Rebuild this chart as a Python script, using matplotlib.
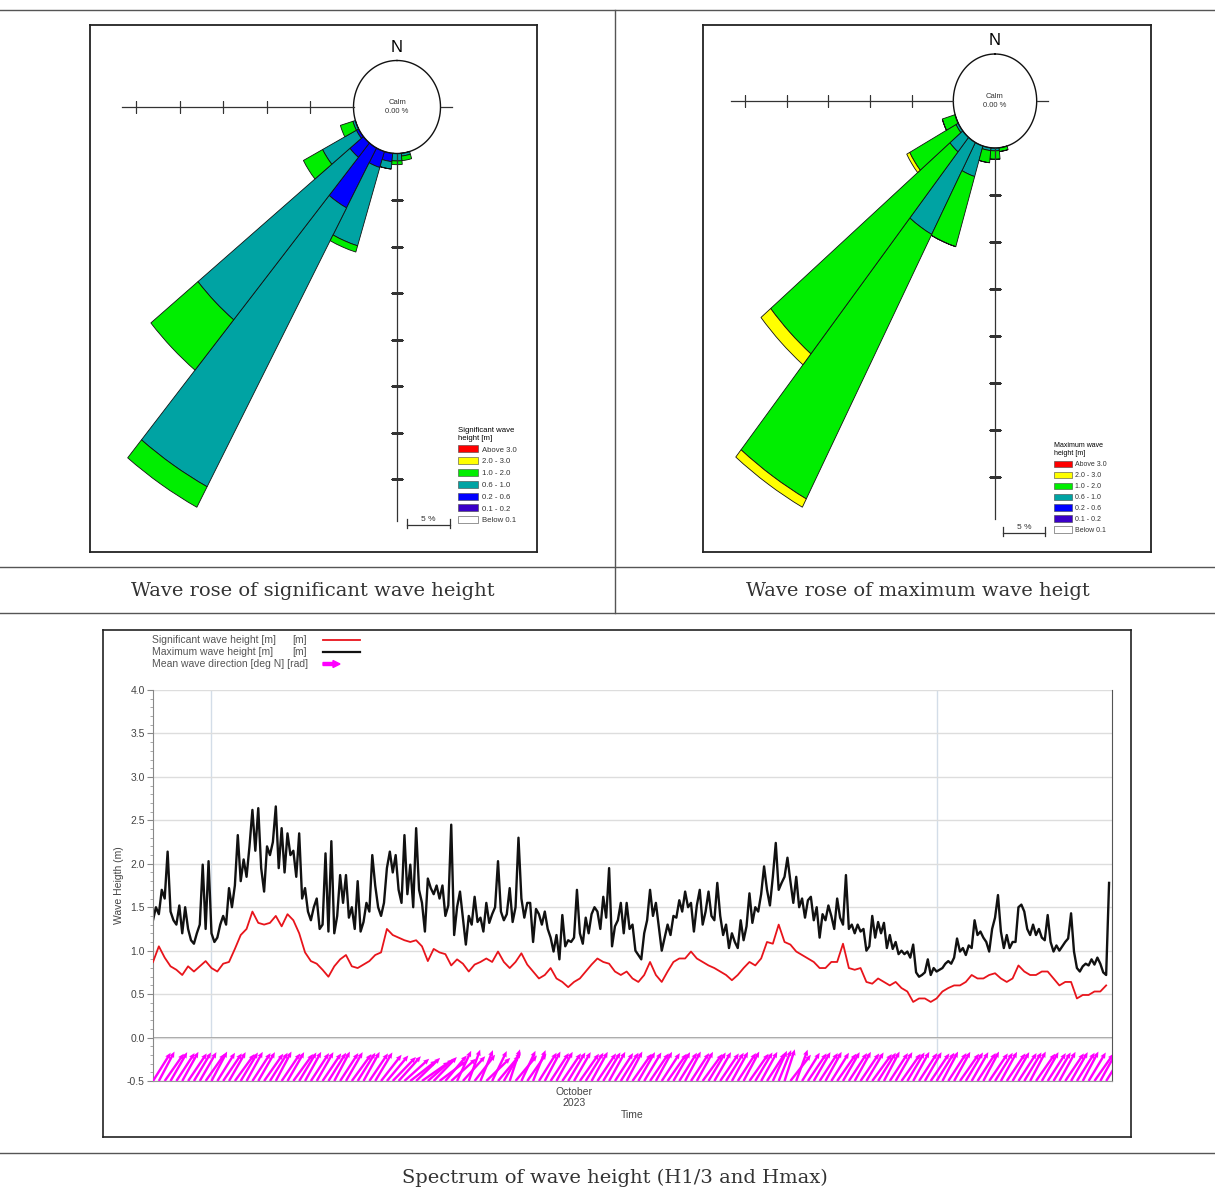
import numpy as np
import matplotlib
matplotlib.use("Agg")
import matplotlib.pyplot as plt
import matplotlib.dates as mdates
import matplotlib.patches as mpatches
from matplotlib.lines import Line2D

plt.rcParams['font.family'] = ['Liberation Sans', 'DejaVu Sans']

# ---- wave rose data (% of time per direction sector, 11.25 deg sectors) ----
rose_dirs = [168.75, 180.0, 191.25, 202.5, 213.75, 225.0, 236.25, 247.5]
bin_labels = ['Above 3.0', '2.0 - 3.0', '1.0 - 2.0', '0.6 - 1.0', '0.2 - 0.6', '0.1 - 0.2', 'Below 0.1']
bin_colors = ['#ff0000', '#ffff00', '#00ee00', '#00a3a3', '#0000ff', '#3a00c8', '#ffffff']

# significant wave height, bins from inside out
hs_02_06 = [0.0, 0.0, 0.9, 1.8, 7.3, 2.0, 0.3, 0.0]
hs_06_10 = [0.3, 0.8, 0.8, 8.8, 34.0, 22.6, 4.4, 0.3]
hs_10_20 = [0.5, 0.4, 0.0, 0.7, 2.5, 7.0, 2.5, 1.5]

# maximum wave height
hm_06_10 = [0.0, 0.3, 0.3, 3.4, 11.1, 2.0, 0.3, 0.0]
hm_10_20 = [0.4, 0.9, 1.3, 7.8, 31.9, 27.8, 6.3, 1.6]
hm_20_30 = [0.0, 0.0, 0.0, 0.0, 1.0, 1.5, 0.4, 0.0]

calm_r = 5.0

# ---- time series (start 2023-09-28 12:00) ----
hs_6h = [
    0.87, 1.05, 0.92, 0.82,  0.78, 0.72, 0.82, 0.76,  0.82, 0.88, 0.80, 0.76,
    0.85, 0.87, 1.02, 1.18,  1.25, 1.45, 1.32, 1.30,  1.32, 1.40, 1.28, 1.42,
    1.35, 1.20, 0.98, 0.88,  0.85, 0.78, 0.70, 0.82,  0.90, 0.95, 0.82, 0.80,
    0.84, 0.88, 0.95, 0.98,  1.25, 1.18, 1.15, 1.12,  1.10, 1.12, 1.05, 0.88,
    1.02, 0.98, 0.96, 0.83,  0.90, 0.85, 0.76, 0.84,  0.87, 0.91, 0.87, 0.99,
    0.87, 0.80, 0.87, 0.97,  0.84, 0.76, 0.68, 0.72,  0.80, 0.68, 0.64, 0.58,
    0.64, 0.68, 0.76, 0.84,  0.91, 0.87, 0.85, 0.76,  0.72, 0.76, 0.68, 0.64,
    0.72, 0.87, 0.72, 0.64,  0.76, 0.87, 0.91, 0.91,  0.99, 0.91, 0.87, 0.83,
    0.80, 0.76, 0.72, 0.66,  0.72, 0.80, 0.87, 0.83,  0.91, 1.10, 1.08, 1.30,
    1.10, 1.07, 0.99, 0.95,  0.91, 0.87, 0.80, 0.80,  0.87, 0.87, 1.08, 0.80,
    0.78, 0.80, 0.64, 0.62,  0.68, 0.64, 0.60, 0.64,  0.57, 0.53, 0.41, 0.45,
    0.45, 0.41, 0.45, 0.53,  0.57, 0.60, 0.60, 0.64,  0.72, 0.68, 0.68, 0.72,
    0.74, 0.68, 0.64, 0.68,  0.83, 0.76, 0.72, 0.72,  0.76, 0.76, 0.68, 0.60,
    0.64, 0.64, 0.45, 0.49,  0.49, 0.53, 0.53, 0.60,
]

hmax_3h = [
    1.35, 1.50, 1.42, 1.70, 1.60, 2.14, 1.45, 1.35,
    1.30, 1.52, 1.20, 1.50, 1.25, 1.12, 1.08, 1.20,
    1.30, 1.99, 1.25, 2.03, 1.20, 1.10, 1.15, 1.30,
    1.40, 1.30, 1.72, 1.50, 1.75, 2.33, 1.80, 2.05,
    1.85, 2.20, 2.62, 2.15, 2.64, 1.95, 1.68, 2.20,
    2.10, 2.25, 2.66, 1.95, 2.41, 1.90, 2.35, 2.10,
    2.15, 1.85, 2.35, 1.60, 1.72, 1.45, 1.35, 1.50,
    1.60, 1.25, 1.30, 2.12, 1.22, 2.26, 1.20, 1.40,
    1.87, 1.55, 1.87, 1.38, 1.50, 1.25, 1.80, 1.22,
    1.33, 1.55, 1.45, 2.10, 1.75, 1.50, 1.40, 1.55,
    1.95, 2.14, 1.90, 2.10, 1.70, 1.55, 2.33, 1.65,
    1.99, 1.50, 2.41, 1.70, 1.55, 1.22, 1.83, 1.72,
    1.65, 1.75, 1.60, 1.75, 1.40, 1.52, 2.45, 1.18,
    1.50, 1.68, 1.38, 1.07, 1.40, 1.30, 1.62, 1.33,
    1.38, 1.22, 1.55, 1.32, 1.42, 1.50, 2.03, 1.45,
    1.35, 1.42, 1.72, 1.33, 1.50, 2.30, 1.60, 1.38,
    1.55, 1.55, 1.10, 1.48, 1.42, 1.30, 1.45, 1.25,
    1.15, 0.99, 1.18, 0.90, 1.41, 1.05, 1.12, 1.10,
    1.15, 1.70, 1.20, 1.08, 1.38, 1.20, 1.42, 1.50,
    1.45, 1.25, 1.62, 1.38, 1.95, 1.05, 1.28, 1.35,
    1.55, 1.20, 1.55, 1.25, 1.30, 1.00, 0.95, 0.90,
    1.20, 1.35, 1.70, 1.40, 1.55, 1.28, 1.00, 1.15,
    1.30, 1.18, 1.40, 1.38, 1.58, 1.45, 1.68, 1.50,
    1.55, 1.22, 1.52, 1.70, 1.30, 1.45, 1.68, 1.40,
    1.35, 1.78, 1.40, 1.18, 1.30, 1.03, 1.20, 1.10,
    1.03, 1.35, 1.12, 1.28, 1.66, 1.32, 1.50, 1.45,
    1.65, 1.97, 1.70, 1.52, 1.85, 2.24, 1.70, 1.78,
    1.85, 2.07, 1.80, 1.55, 1.85, 1.50, 1.60, 1.38,
    1.58, 1.62, 1.35, 1.50, 1.15, 1.42, 1.35, 1.52,
    1.40, 1.25, 1.60, 1.38, 1.30, 1.87, 1.25, 1.30,
    1.20, 1.30, 1.22, 1.25, 1.00, 1.05, 1.40, 1.15,
    1.33, 1.20, 1.32, 1.03, 1.18, 1.02, 1.10, 0.96,
    1.00, 0.96, 0.99, 0.92, 1.07, 0.75, 0.70, 0.72,
    0.75, 0.90, 0.72, 0.80, 0.76, 0.78, 0.80, 0.85,
    0.88, 0.85, 0.92, 1.14, 0.99, 1.03, 0.95, 1.06,
    1.03, 1.35, 1.18, 1.22, 1.15, 1.10, 0.99, 1.25,
    1.38, 1.64, 1.22, 1.03, 1.18, 1.03, 1.10, 1.10,
    1.50, 1.53, 1.45, 1.25, 1.18, 1.30, 1.18, 1.25,
    1.15, 1.12, 1.41, 1.10, 0.99, 1.06, 1.00, 1.05,
    1.10, 1.14, 1.43, 0.99, 0.80, 0.76, 0.82, 0.85,
    0.83, 0.90, 0.84, 0.92, 0.85, 0.75, 0.72, 1.78,
]

# mean wave direction [deg N], every 6 h
mwd_6h = [
    212, 208, 215, 210,  213, 209, 214, 211,  210, 215, 208, 212,  214, 210, 216, 211,
    209, 213, 210, 215,  212, 208, 214, 210,  216, 211, 209, 213,  210, 214, 212, 208,
    213, 210, 216, 212,  209, 214, 211, 218,  220, 224, 222, 228,  232, 226, 235, 229,
    224, 233, 220, 228,  205, 222, 200, 218,  202, 226, 206, 220,  210, 198, 220, 205,
    215, 202, 212, 208,  213, 209, 214, 211,  210, 215, 212, 209,  214, 211, 209, 213,
    212, 208, 215, 210,  211, 214, 209, 213,  215, 210, 212, 208,  213, 209, 216, 211,
    210, 214, 212, 209,  213, 208, 215, 211,  209, 213, 205, 202,  198, 218, 200, 212,
    214, 210, 213, 209,  212, 215, 210, 213,  209, 214, 211, 216,  212, 208, 213, 210,
    215, 211, 209, 213,  210, 214, 212, 208,  213, 209, 215, 211,  210, 213, 208, 214,
    212, 209, 214, 210,  213, 211, 208, 215,  210, 213, 211, 209,  214, 210, 212, 208,
    211, 215, 209, 212,
]

series_labels = ['Significant wave height [m]', 'Maximum wave height [m]',
                 'Mean wave direction [deg N] [rad]']

t0 = np.datetime64('2023-09-28T12:00')
t_6h = t0 + np.arange(len(hs_6h)) * np.timedelta64(6, 'h')
t_3h = t0 + np.arange(len(hmax_3h)) * np.timedelta64(3, 'h')

W, H = 1215, 1191
fig = plt.figure(figsize=(W / 100, H / 100), dpi=100)


def fr(x0, y0, x1, y1):
    # pixel box -> figure fraction rect
    return [x0 / W, 1 - y1 / H, (x1 - x0) / W, (y1 - y0) / H]


# table lines
line_kw = dict(color='#555555', lw=1.0, transform=fig.transFigure)
for yy in [10, 567, 613, 1153]:
    fig.add_artist(Line2D([0, 1], [1 - yy / H, 1 - yy / H], **line_kw))
fig.add_artist(Line2D([615 / W, 615 / W], [1 - 10 / H, 1 - 613 / H], **line_kw))

cap_kw = dict(ha='center', va='center', fontsize=14, family='DejaVu Serif', color='#333333')
fig.text(313 / W, 1 - 591 / H, 'Wave rose of significant wave height', **cap_kw)
fig.text(918 / W, 1 - 591 / H, 'Wave rose of maximum wave heigt', **cap_kw)
fig.text(615 / W, 1 - 1178 / H, 'Spectrum of wave height (H1/3 and Hmax)', **cap_kw)


def draw_rose(box_px, center, sx, sy, stacks, leg_title, leg_xy, leg_fs, leg_sp, bar_xy):
    box = fig.add_axes(fr(*box_px))
    box.set_xticks([])
    box.set_yticks([])
    for s in box.spines.values():
        s.set_linewidth(1.3)
        s.set_color('#222222')
    cx, cy = center
    R = 50.0
    ax = fig.add_axes(fr(cx - R * sx, cy - R * sy, cx + R * sx, cy + R * sy),
                      projection='polar')
    ax.set_aspect('auto')
    ax.set_theta_zero_location('N')
    ax.set_theta_direction(-1)
    ax.set_ylim(0, R)
    ax.axis('off')

    th = np.deg2rad(rose_dirs)
    width = np.deg2rad(11.25)
    bottom = np.full(len(rose_dirs), calm_r)
    for vals, col in stacks:
        vals = np.array(vals)
        ax.bar(th, vals, width=width, bottom=bottom, color=col,
               edgecolor='#111111', linewidth=0.6)
        bottom = bottom + vals

    # calm circle
    tc = np.linspace(0, 2 * np.pi, 200)
    ax.plot(tc, np.full_like(tc, calm_r), color='#111111', lw=1.0)
    ax.text(0, 0, 'Calm\n0.00 %', ha='center', va='center', fontsize=5.5,
            color='#333333', linespacing=1.3)
    ax.text(0, calm_r + 1.4, 'N', ha='center', va='center', fontsize=12)

    # axes with ticks
    ax.plot([1.5 * np.pi, 1.5 * np.pi], [calm_r, 31.6], color='#333333', lw=0.9)
    ax.plot([0.5 * np.pi, 0.5 * np.pi], [calm_r, 6.3], color='#333333', lw=0.9)
    ax.plot([np.pi, np.pi], [calm_r, 44.5], color='#333333', lw=0.9)
    rt_x = calm_r + 5 * np.arange(1, 6)
    rt_y = calm_r + 5 * np.arange(1, 8)
    ax.plot(np.full(len(rt_x), 1.5 * np.pi), rt_x, ls='none', marker=(2, 2, 0),
            ms=9, mew=0.8, color='#333333')
    ax.plot(np.full(len(rt_y), np.pi), rt_y, ls='none', marker=(2, 2, 90),
            ms=9, mew=0.8, color='#333333')

    # legend
    handles = [mpatches.Patch(facecolor=c, edgecolor='#444444', lw=0.4) for c in bin_colors]
    lg = box.legend(handles, bin_labels, title=leg_title, loc='upper left',
                    bbox_to_anchor=leg_xy, fontsize=leg_fs, title_fontsize=leg_fs,
                    frameon=False, handlelength=2.6, handleheight=1.0,
                    labelspacing=leg_sp, borderpad=0, handletextpad=0.5,
                    alignment='left')
    for t in lg.get_texts():
        t.set_color('#333333')

    # 5 % scale bar
    x0, x1, yb = bar_xy
    box.plot([x0, x1], [yb, yb], color='#333333', lw=0.9, transform=box.transAxes)
    box.plot([x0, x0], [yb - 0.006, yb + 0.012], color='#333333', lw=0.9,
             transform=box.transAxes)
    box.plot([x1, x1], [yb - 0.006, yb + 0.012], color='#333333', lw=0.9,
             transform=box.transAxes)
    box.text((x0 + x1) / 2, yb + 0.004, '5 %', ha='center', va='bottom',
             fontsize=6, color='#333333', transform=box.transAxes)


draw_rose((90, 25, 537, 552), (397, 107), 8.7, 9.3,
          [(hs_02_06, bin_colors[4]), (hs_06_10, bin_colors[3]), (hs_10_20, bin_colors[2])],
          'Significant wave\nheight [m]', (0.815, 0.245), 5.6, 0.47, (0.709, 0.805, 0.051))

draw_rose((703, 25, 1151, 552), (995, 101), 8.34, 9.4,
          [(hm_06_10, bin_colors[3]), (hm_10_20, bin_colors[2]), (hm_20_30, bin_colors[1])],
          'Maximum wave\nheight [m]', (0.775, 0.215), 5.0, 0.5, (0.670, 0.763, 0.036))

# ---- time series panel ----
tbox = fig.add_axes(fr(103, 630, 1131, 1137))
tbox.set_xticks([])
tbox.set_yticks([])
tbox.set_xlim(103, 1131)
tbox.set_ylim(1137, 630)
for s in tbox.spines.values():
    s.set_linewidth(1.2)
    s.set_color('#222222')

ax = fig.add_axes(fr(153, 690, 1112, 1081))
ax.set_facecolor('none')
ax.plot(t_6h, hs_6h, color='#e8141b', lw=1.3, zorder=3)
ax.plot(t_3h, hmax_3h, color='#111111', lw=1.7, zorder=2)

to_dir = np.deg2rad(np.array(mwd_6h) - 180.0)
ax.quiver(mdates.date2num(t_6h), np.full(len(mwd_6h), -0.5),
          np.sin(to_dir), np.cos(to_dir), angles='uv', scale_units='inches',
          scale=3.0, pivot='tail', units='dots', width=2.4, headwidth=2.2,
          headlength=2.5, headaxislength=2.3, color='#ff00ff', zorder=4)

ax.set_xlim(t0, np.datetime64('2023-11-08T12:00'))
ax.set_ylim(-0.5, 4.0)
ax.set_yticks(np.arange(-0.5, 4.01, 0.5))
ax.set_yticklabels(['%.1f' % v for v in np.arange(-0.5, 4.01, 0.5)])
ax.set_yticks(np.arange(-0.5, 4.01, 0.1), minor=True)
ax.tick_params(axis='y', which='major', labelsize=7.5, labelcolor='#444444',
               color='#888888', length=4, pad=2)
ax.tick_params(axis='y', which='minor', color='#999999', length=2)
ax.grid(axis='y', color='#dddddd', lw=1.0)
ax.axhline(0.0, color='#999999', lw=1.3, zorder=1)

month_lines = [np.datetime64('2023-10-01'), np.datetime64('2023-11-01')]
for m in month_lines:
    ax.axvline(m, color='#d3dde8', lw=1.0, zorder=0)
ax.set_xticks([mdates.date2num(np.datetime64('2023-10-16T12:00'))])
ax.set_xticklabels(['October\n2023'])
ax.tick_params(axis='x', length=0, labelsize=7.5, labelcolor='#444444', pad=4)
ax.set_xlabel('Time', fontsize=7.5, color='#444444', labelpad=1)
ax.set_ylabel('Wave Heigth (m)', fontsize=7.5, color='#444444', labelpad=2)

ax.spines['top'].set_visible(False)
ax.spines['left'].set_color('#888888')
ax.spines['bottom'].set_color('#999999')
ax.spines['right'].set_color('#555555')

# legend drawn in the frame axes (pixel coords), left aligned text
leg_rows = [640, 652, 664]
for yy, lab in zip(leg_rows, series_labels):
    tbox.text(152, yy, lab, ha='left', va='center', fontsize=7.5, color='#555555')
tbox.text(292, leg_rows[0], '[m]', ha='left', va='center', fontsize=7.5, color='#555555')
tbox.text(292, leg_rows[1], '[m]', ha='left', va='center', fontsize=7.5, color='#555555')
tbox.plot([323, 360], [leg_rows[0], leg_rows[0]], color='#e8141b', lw=1.3)
tbox.plot([323, 360], [leg_rows[1], leg_rows[1]], color='#111111', lw=1.6)
tbox.add_patch(mpatches.FancyArrow(323, leg_rows[2], 10, 0, width=3.0, head_width=7,
                                   head_length=7, color='#ff00ff'))

fig.savefig('out.png', dpi=100, facecolor='white')
